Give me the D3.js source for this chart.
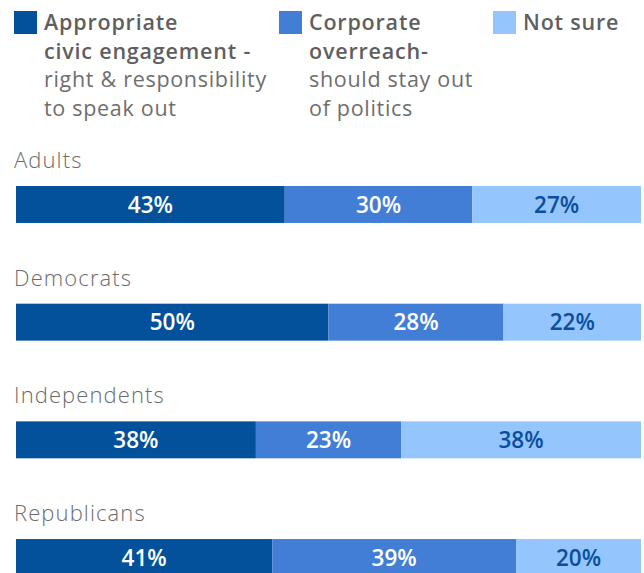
<!DOCTYPE html>
<html>
<head>
<meta charset="utf-8">
<script src="https://cdn.jsdelivr.net/npm/d3@7"></script>
<style>
  html, body { margin: 0; padding: 0; background: #fff; }
  svg { display: block; }
</style>
</head>
<body>
<svg id="chart" width="644" height="573"></svg>
<script>
const categories = ["Adults", "Democrats", "Independents", "Republicans"];
const seriesNames = ["Appropriate civic engagement", "Corporate overreach", "Not sure"];
const appropriate = [43, 50, 38, 41];
const overreach = [30, 28, 23, 39];
const notSure = [27, 22, 38, 20];
const colors = ["#03519b", "#427ed6", "#94c5fd"];
const labelColors = ["#ffffff", "#ffffff", "#0b4f9b"];
const legendLines = [
  [{t: "Appropriate", b: true}, {t: "civic engagement -", b: true}, {t: "right & responsibility", b: false}, {t: "to speak out", b: false}],
  [{t: "Corporate", b: true}, {t: "overreach-", b: true}, {t: "should stay out", b: false}, {t: "of politics", b: false}],
  [{t: "Not sure", b: true}]
];

const svg = d3.select("#chart");
const series = [appropriate, overreach, notSure];

const rows = categories.map((c, i) => {
  const vals = series.map(s => s[i]);
  const total = d3.sum(vals);
  let acc = 0;
  const segs = vals.map((v, k) => {
    const s = {cat: c, k, v, x0: acc / total, x1: (acc + v) / total};
    acc += v;
    return s;
  });
  return {cat: c, segs};
});

const x = d3.scaleLinear().domain([0, 1]).range([16, 641]);
const y = d3.scaleBand().domain(categories).range([186, 576]).paddingInner(0.686).paddingOuter(0).align(0);

// Legend
const legendX = [14, 279, 493];
const lg = svg.append("g");
legendLines.forEach((lines, i) => {
  const g = lg.append("g");
  g.append("rect").attr("x", legendX[i]).attr("y", 11).attr("width", 23).attr("height", 23).attr("fill", colors[i]);
  lines.forEach((ln, j) => {
    g.append("text")
      .attr("x", legendX[i] + 30)
      .attr("y", 30 + j * 28.5)
      .attr("font-family", "'Open Sans', Lato, sans-serif")
      .attr("font-size", 21.5)
      .attr("font-weight", ln.b ? 600 : 400)
      .attr("letter-spacing", ln.b ? 0.8 : 0.7)
      .attr("fill", ln.b ? "#5f5f5f" : "#6e6e6e")
      .text(ln.t);
  });
});

// Category labels
svg.append("g").selectAll("text").data(categories).join("text")
  .attr("x", 14)
  .attr("y", d => y(d) - 18)
  .attr("font-family", "'Open Sans', Lato, sans-serif")
  .attr("font-size", 22)
  .attr("font-weight", 300)
  .attr("letter-spacing", 1.1)
  .attr("fill", "#6b6b6b")
  .text(d => d);

// Bars
const rowG = svg.append("g").selectAll("g").data(rows).join("g");
rowG.selectAll("rect").data(d => d.segs).join("rect")
  .attr("x", d => x(d.x0))
  .attr("y", d => y(d.cat))
  .attr("width", d => x(d.x1) - x(d.x0))
  .attr("height", y.bandwidth())
  .attr("fill", d => colors[d.k]);

rowG.selectAll("text").data(d => d.segs).join("text")
  .attr("x", d => (x(d.x0) + x(d.x1)) / 2)
  .attr("y", d => y(d.cat) + y.bandwidth() / 2)
  .attr("dy", "0.36em")
  .attr("text-anchor", "middle")
  .attr("font-family", "'Open Sans', 'Noto Sans', sans-serif")
  .attr("font-size", 22.5)
  .attr("font-weight", 600)
  .attr("fill", d => labelColors[d.k])
  .text(d => d.v + "%");
</script>
</body>
</html>
